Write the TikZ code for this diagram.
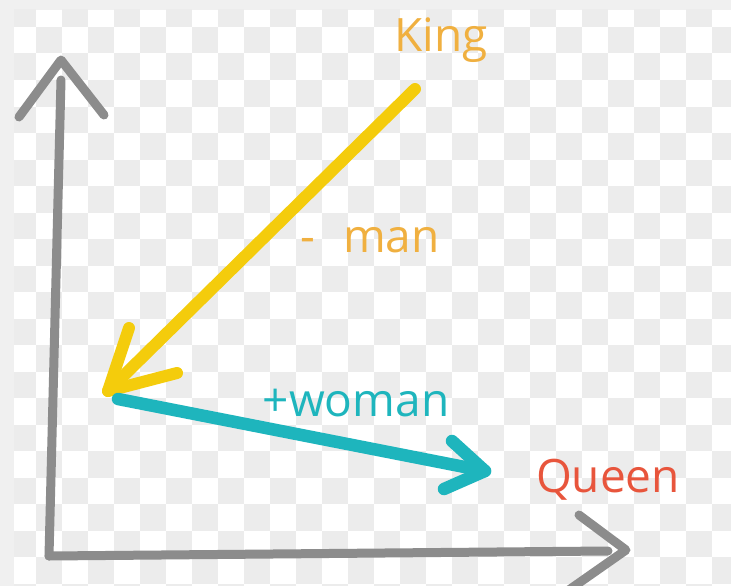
\documentclass[tikz,border=0pt]{standalone}
\usepackage{fontspec}
\setmainfont{Open Sans}
\definecolor{bordergrey}{HTML}{F0F0F0}
\definecolor{checkgrey}{HTML}{ECECEC}
\definecolor{axisgrey}{HTML}{8C8C8C}
\definecolor{kingyellow}{HTML}{F4CC0C}
\definecolor{kingorange}{HTML}{F0B040}
\definecolor{womanteal}{HTML}{1EB5BD}
\definecolor{queenred}{HTML}{E8553C}
\tikzset{
  axisline/.style={draw=axisgrey, line width=9pt, line cap=round, line join=round},
  kingline/.style={draw=kingyellow, line width=12pt, line cap=round, line join=round},
  womanline/.style={draw=womanteal, line width=12.5pt, line cap=round, line join=round},
  hand/.style={inner sep=0pt, font=\fontsize{46}{50}\selectfont},
}
\begin{document}
\begin{tikzpicture}[x=1pt,y=-1pt]
  % background
  \useasboundingbox (0,0) rectangle (731,586);
  \fill[bordergrey] (0,0) rectangle (731,586);
  \begin{scope}
    \clip (14,10) rectangle (731,586);
    \fill[white] (14,10) rectangle (731,586);
    \foreach \c in {0,...,27}{
      \foreach \r in {0,...,22}{
        \pgfmathtruncatemacro\pr{mod(\c+\r,2)}
        \ifnum\pr=0
          \fill[checkgrey] ({10+26*\c},{0.5+26.5*\r}) rectangle ({36+26*\c},{27+26.5*\r});
        \fi
      }
    }
  \end{scope}

  % axes
  \coordinate (O) at (49,556);
  \coordinate (ytop) at (61,80);
  \coordinate (ytip) at (61,60);
  \coordinate (yl) at (19,117);
  \coordinate (yr) at (104,115);
  \coordinate (xend) at (608,551);
  \coordinate (xtip) at (626,550);
  \coordinate (xu) at (579,515);
  \coordinate (xd) at (566,592);
  \draw[axisline] (O) -- (ytop);
  \draw[axisline] (yl) -- (ytip) -- (yr);
  \draw[axisline] (O) -- (xend);
  \draw[axisline] (xu) -- (xtip) -- (xd);

  % King -> minus man
  \coordinate (kstart) at (415,89);
  \coordinate (ktip) at (108,391);
  \coordinate (kl) at (129,328);
  \coordinate (kr) at (177,373);
  \draw[kingline] (kstart) -- (ktip);
  \draw[kingline] (kl) -- (ktip) -- (kr);

  % + woman -> Queen
  \coordinate (wstart) at (118,399);
  \coordinate (wtip) at (485,471);
  \coordinate (wu) at (452,441);
  \coordinate (wd) at (444,489);
  \draw[womanline] (wstart) -- (wtip);
  \draw[womanline] (wu) -- (wtip) -- (wd);

  % labels
  \node[hand, text=kingorange] (king) at (441,40) {King};
  \node[hand, text=kingorange] (man) at (370,240) {-\hspace{28pt}man};
  \node[hand, text=womanteal] (woman) at (356,403) {+woman};
  \node[hand, text=queenred] (queen) at (608,480) {Queen};
\end{tikzpicture}
\end{document}
